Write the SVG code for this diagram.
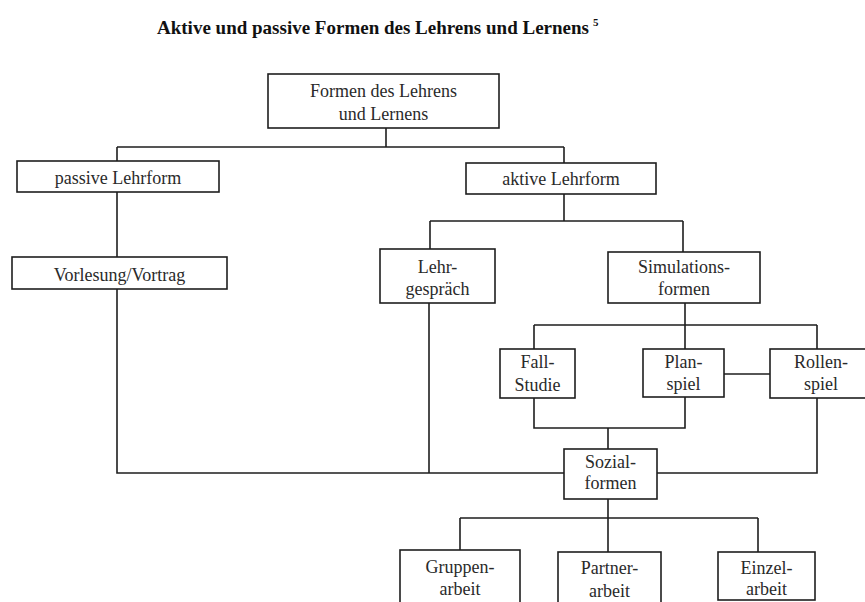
<svg xmlns="http://www.w3.org/2000/svg" width="865" height="602" viewBox="0 0 865 602">
<style>
.bg{fill:#ffffff}
.box{fill:#ffffff;stroke:#1e1e1e;stroke-width:1.6}
.lbl{font-family:"Liberation Serif","Times New Roman",serif;font-size:18px;fill:#2a2a2a;text-anchor:middle}
.ttl{font-family:"Liberation Serif","Times New Roman",serif;font-size:19px;font-weight:bold;fill:#111}
.sup{font-family:"Liberation Serif","Times New Roman",serif;font-size:11px;font-weight:bold;fill:#111}
.con{fill:none;stroke:#1e1e1e;stroke-width:1.6}
</style>
<rect class="bg" x="0" y="0" width="865" height="602"/>
<g id="title">
<text class="ttl" x="157" y="34">Aktive und passive Formen des Lehrens und Lernens</text>
<text class="sup" x="593" y="26">5</text>
</g>
<g id="connectors">
<path class="con" d="M386,128 V147 M117,147 H564 M117,147 V161 M564,147 V163"/>
<path class="con" d="M117,192 V257"/>
<path class="con" d="M117,289 V473 H564"/>
<path class="con" d="M429,303 V473"/>
<path class="con" d="M564,194 V221 M430,221 H683 M430,221 V249 M683,221 V252"/>
<path class="con" d="M685,303 V349 M534,325 H817 M534,325 V349 M817,325 V349"/>
<path class="con" d="M724,374 H770"/>
<path class="con" d="M534,398 V428 H685 V397 M608,428 V449"/>
<path class="con" d="M657,473 H817 V398"/>
<path class="con" d="M608,499 V518 M460,518 H758 M460,518 V550 M608,518 V552 M758,518 V552"/>
</g>
<g id="n-formen">
<rect class="box" x="268" y="74" width="231" height="54"/>
<text class="lbl" x="383.5" y="97">Formen des Lehrens</text>
<text class="lbl" x="383.5" y="120">und Lernens</text>
</g>
<g id="n-passive">
<rect class="box" x="17" y="161" width="202" height="31"/>
<text class="lbl" x="118" y="184">passive Lehrform</text>
</g>
<g id="n-aktive">
<rect class="box" x="466" y="163" width="190" height="31"/>
<text class="lbl" x="561" y="185">aktive Lehrform</text>
</g>
<g id="n-vorlesung">
<rect class="box" x="12" y="257" width="215" height="32"/>
<text class="lbl" x="119.5" y="281">Vorlesung/Vortrag</text>
</g>
<g id="n-lehrgespraech">
<rect class="box" x="380" y="249" width="115" height="54"/>
<text class="lbl" x="437.5" y="273">Lehr-</text>
<text class="lbl" x="437.5" y="295">gespräch</text>
</g>
<g id="n-simulation">
<rect class="box" x="608" y="252" width="152" height="51"/>
<text class="lbl" x="684" y="273">Simulations-</text>
<text class="lbl" x="684" y="295">formen</text>
</g>
<g id="n-fallstudie">
<rect class="box" x="500" y="349" width="75" height="49"/>
<text class="lbl" x="537.5" y="368">Fall-</text>
<text class="lbl" x="537.5" y="391">Studie</text>
</g>
<g id="n-planspiel">
<rect class="box" x="643" y="349" width="81" height="48"/>
<text class="lbl" x="683.5" y="368">Plan-</text>
<text class="lbl" x="683.5" y="390">spiel</text>
</g>
<g id="n-rollenspiel">
<rect class="box" x="770" y="349" width="102" height="49"/>
<text class="lbl" x="821" y="368">Rollen-</text>
<text class="lbl" x="821" y="390">spiel</text>
</g>
<g id="n-sozialformen">
<rect class="box" x="564" y="449" width="93" height="50"/>
<text class="lbl" x="610.5" y="468">Sozial-</text>
<text class="lbl" x="610.5" y="489">formen</text>
</g>
<g id="n-gruppenarbeit">
<rect class="box" x="400" y="550" width="120" height="60"/>
<text class="lbl" x="460" y="573">Gruppen-</text>
<text class="lbl" x="460" y="595">arbeit</text>
</g>
<g id="n-partnerarbeit">
<rect class="box" x="558" y="552" width="103" height="58"/>
<text class="lbl" x="609.5" y="574">Partner-</text>
<text class="lbl" x="609.5" y="597">arbeit</text>
</g>
<g id="n-einzelarbeit">
<rect class="box" x="718" y="552" width="97" height="48"/>
<text class="lbl" x="766.5" y="574">Einzel-</text>
<text class="lbl" x="766.5" y="595">arbeit</text>
</g>
</svg>
